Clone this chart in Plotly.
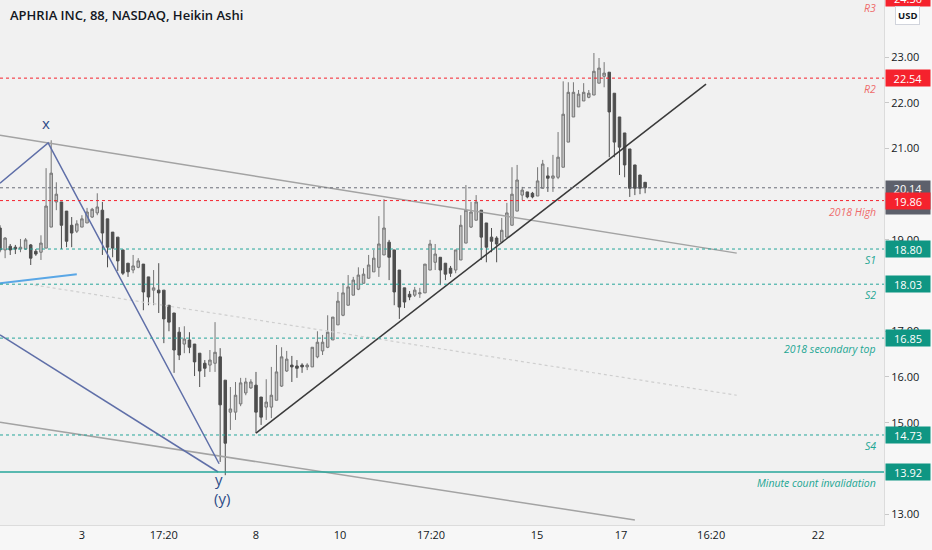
import plotly.graph_objects as go

# ---------------- data ----------------
bar_index = list(range(127))

opens = [19.26,18.78,18.86,18.84,18.80,18.80,18.89,18.75,18.73,18.82,
         19.28,19.83,19.83,19.63,19.32,19.19,19.28,19.37,19.50,19.59,
         19.65,19.46,19.17,19.06,18.78,18.49,18.34,18.40,18.47,18.19,
         17.90,17.90,17.90,17.57,17.40,16.98,16.72,16.81,16.72,16.52,
         16.30,16.26,16.30,16.44,15.93,15.23,15.23,15.41,15.65,15.76,
         15.82,15.56,15.34,15.34,15.49,15.80,16.13,16.26,16.24,16.26,
         16.22,16.22,16.44,16.57,16.65,16.81,17.14,17.35,17.57,17.79,
         17.92,18.05,18.16,18.30,18.40,18.67,18.95,18.78,18.34,17.95,
         17.81,17.79,17.82,17.84,18.34,18.51,18.62,18.49,18.38,18.34,
         18.56,18.93,19.28,19.43,19.65,19.37,19.06,19.04,18.95,19.06,
         19.32,19.63,19.98,20.05,20.02,19.96,20.13,20.40,20.35,20.37,
         20.59,21.14,21.69,21.91,22.04,22.12,22.17,22.43,22.58,22.67,
         22.21,21.69,21.34,20.99,20.64,20.42,20.26]

closes = [18.78,19.04,18.78,18.80,18.84,19.00,18.60,18.69,18.93,19.74,
          20.46,20.00,19.32,18.97,19.15,19.35,19.46,19.61,19.67,19.72,
          19.15,18.84,18.82,18.54,18.27,18.30,18.43,18.54,17.86,17.75,
          17.95,17.84,17.27,17.20,16.59,16.48,16.83,16.65,16.33,16.13,
          16.19,16.37,16.54,15.39,14.55,15.30,15.60,15.87,15.89,15.89,
          15.23,15.12,15.45,15.60,16.11,16.44,16.39,16.22,16.19,16.22,
          16.26,16.65,16.76,16.76,16.98,17.31,17.66,17.84,17.97,18.12,
          18.23,18.25,18.45,18.60,18.91,19.26,18.62,17.86,17.53,17.64,
          17.75,17.90,17.84,18.47,18.91,18.69,18.34,18.25,18.27,18.78,
          19.32,19.65,19.61,19.83,19.06,18.84,18.97,18.91,19.21,19.59,
          20.00,20.31,20.09,19.94,19.94,20.29,20.66,20.35,20.40,20.81,
          21.75,22.23,22.23,22.19,22.23,22.21,22.69,22.76,22.65,21.80,
          21.14,21.03,20.64,20.13,20.13,20.13,20.14]

highs = [19.32,19.06,18.91,18.89,19.02,19.04,18.91,18.80,19.10,20.57,
         21.18,20.26,19.83,19.63,19.50,19.43,19.54,19.70,19.70,20.02,
         19.83,19.46,19.17,19.06,18.78,18.49,18.67,18.60,18.47,18.19,
         18.34,18.49,17.90,17.57,17.40,17.09,17.11,16.98,16.72,16.52,
         16.37,16.59,17.20,16.63,15.93,15.78,15.89,15.98,15.98,15.95,
         16.11,15.56,15.95,16.22,16.70,16.65,16.57,16.46,16.37,16.30,
         16.30,16.65,17.00,16.92,17.35,17.31,17.86,18.05,18.23,18.19,
         18.40,18.38,18.67,18.78,19.52,19.89,19.00,18.78,18.34,17.95,
         17.88,17.97,17.95,18.47,19.00,18.91,18.62,18.49,18.43,18.78,
         19.54,20.20,19.83,19.98,19.65,19.37,19.26,19.08,19.48,19.81,
         20.59,20.64,20.16,20.05,20.05,20.59,20.75,20.59,20.86,21.36,
         22.47,22.45,22.45,22.28,22.43,22.28,23.09,22.98,22.89,22.67,
         22.21,21.69,21.34,20.99,20.64,20.42,20.26]

lows = [18.73,18.60,18.67,18.69,18.73,18.78,18.45,18.65,18.56,18.82,
        19.28,19.65,18.80,18.84,18.84,19.15,19.28,19.37,19.48,19.54,
        18.67,18.40,18.62,18.32,18.23,18.19,18.27,18.38,17.46,17.57,
        17.57,17.40,16.74,17.00,16.09,16.37,16.52,16.52,16.02,15.78,
        16.00,16.11,16.11,14.14,13.85,14.84,15.06,15.36,15.60,15.74,
        14.77,14.95,15.06,15.10,15.49,15.78,16.11,15.89,15.98,16.09,
        16.15,16.22,16.41,16.48,16.63,16.81,17.14,17.33,17.57,17.79,
        17.90,18.05,18.16,18.30,18.19,18.67,18.12,17.57,17.27,17.51,
        17.68,17.75,17.73,17.84,18.34,18.34,18.01,18.12,18.19,18.27,
        18.56,18.93,19.26,19.43,18.56,18.51,18.73,18.51,18.93,19.06,
        19.32,19.63,19.87,19.91,19.91,19.96,20.13,20.05,20.05,20.33,
        20.59,21.14,21.69,21.91,22.04,22.10,22.17,22.43,22.34,20.81,
        20.81,20.42,20.37,19.94,19.98,20.00,20.02]

# time axis labels (bar index position -> label)
tick_positions = [16, 32, 50, 66.4, 84.2, 104.9, 121.3, 138.9, 159.8]
tick_labels = ["3", "17:20", "8", "10", "17:20", "15", "17", "16:20", "22"]

price_ticks = [13, 15, 16, 17, 19, 21, 22, 23]

# horizontal levels
level_values = [22.54, 19.86, 18.80, 18.03, 16.85, 14.73, 13.92]
level_names = ["R2", "2018 High", "S1", "S2", "2018 secondary top", "S4",
               "Minute count invalidation"]
level_kind = ["res", "res", "sup", "sup", "sup", "sup", "sup_solid"]
r3_value = 24.30
last_price = 20.14

# drawings (bar index, price)
channel_top_x = [0, 143.9]
channel_top_y = [21.29, 18.71]
channel_bot_x = [0, 124.0]
channel_bot_y = [15.01, 12.87]
median_x = [6.8, 143.9]
median_y = [18.01, 15.60]
wave_a_x = [0, 9.4, 42.8]
wave_a_y = [20.24, 21.12, 14.10]
wave_b_x = [0, 42.6]
wave_b_y = [16.92, 13.92]
light_blue_x = [0, 15.0]
light_blue_y = [18.05, 18.25]
trend_x = [50.0, 137.9]
trend_y = [14.77, 22.41]

wave_labels = ["x", "y", "(y)"]
wave_label_x = [9.0, 42.8, 43.3]
wave_label_y = [21.56, 13.76, 13.35]

# ---------------- styles ----------------
Y_MIN, Y_MAX = 12.76, 24.25
X_MIN, X_MAX = 0, 172.66
RED = "#f5222d"
RED_TXT = "#ef6b6b"
TEAL = "#0f9683"
TEAL_LINE = "#26a69a"
TEAL_TXT = "#22a693"
FONT = "Open Sans"

fig = go.Figure()

fig.add_trace(go.Scatter(x=channel_top_x, y=channel_top_y, mode="lines",
                         line=dict(color="#a3a3a3", width=1.5), hoverinfo="skip"))
fig.add_trace(go.Scatter(x=channel_bot_x, y=channel_bot_y, mode="lines",
                         line=dict(color="#a3a3a3", width=1.5), hoverinfo="skip"))
fig.add_trace(go.Scatter(x=median_x, y=median_y, mode="lines",
                         line=dict(color="#cfcfcf", width=1.2, dash="dot"), hoverinfo="skip"))
fig.add_trace(go.Scatter(x=wave_a_x, y=wave_a_y, mode="lines",
                         line=dict(color="#5f6fa8", width=1.5), hoverinfo="skip"))
fig.add_trace(go.Scatter(x=wave_b_x, y=wave_b_y, mode="lines",
                         line=dict(color="#5f6fa8", width=1.5), hoverinfo="skip"))
fig.add_trace(go.Scatter(x=light_blue_x, y=light_blue_y, mode="lines",
                         line=dict(color="#5aa7e6", width=2), hoverinfo="skip"))

fig.add_trace(go.Candlestick(
    x=bar_index, open=opens, high=highs, low=lows, close=closes,
    increasing=dict(fillcolor="#c4c4c4", line=dict(color="#767676", width=1)),
    decreasing=dict(fillcolor="#4e4e4e", line=dict(color="#4e4e4e", width=1)),
    whiskerwidth=0, hoverinfo="skip"))

fig.add_trace(go.Scatter(x=trend_x, y=trend_y, mode="lines",
                         line=dict(color="#3a3a3a", width=1.5), hoverinfo="skip"))

shapes = []
annotations = []

# current price line
shapes.append(dict(type="line", xref="paper", x0=0, x1=1, yref="y",
                   y0=last_price, y1=last_price,
                   line=dict(color="#6a6d78", width=1, dash="dot")))

for val, name, kind in zip(level_values, level_names, level_kind):
    if kind == "res":
        lc, tc, dash, w = RED, RED_TXT, "dot", 1
    elif kind == "sup":
        lc, tc, dash, w = TEAL_LINE, TEAL_TXT, "dot", 1
    else:
        lc, tc, dash, w = TEAL_LINE, TEAL_TXT, "solid", 1.5
    shapes.append(dict(type="line", xref="paper", x0=0, x1=1, yref="y",
                       y0=val, y1=val, line=dict(color=lc, width=w, dash=dash)))
    annotations.append(dict(xref="paper", x=0.9932, xanchor="right", yref="y", y=val,
                            yanchor="middle", yshift=-11, text="<i>%s</i>" % name,
                            showarrow=False, font=dict(family=FONT, size=10.5, color=tc)))

# R3 label (level just above visible area)
r3_paper = (r3_value - Y_MIN) / (Y_MAX - Y_MIN)
annotations.append(dict(xref="paper", x=0.9932, xanchor="right", yref="paper", y=r3_paper,
                        yanchor="middle", yshift=-10, text="<i>R3</i>",
                        showarrow=False, font=dict(family=FONT, size=10.5, color=RED_TXT)))
annotations.append(dict(xref="paper", x=1, xanchor="left", xshift=1, yref="paper",
                        y=r3_paper, yanchor="middle", text="%.2f" % r3_value,
                        showarrow=False, width=44, height=16, bgcolor=RED, borderpad=0,
                        font=dict(family=FONT, size=11, color="white")))

# last price box (gray, behind the 19.86 box)
annotations.append(dict(xref="paper", x=1, xanchor="left", xshift=1, yref="y",
                        y=last_price, yanchor="top", yshift=8, text="%.2f" % last_price,
                        valign="top", showarrow=False, width=44, height=33,
                        bgcolor="#5d606b", borderpad=0,
                        font=dict(family=FONT, size=11, color="white")))

for val, kind in zip(level_values, level_kind):
    bc = RED if kind == "res" else TEAL
    annotations.append(dict(xref="paper", x=1, xanchor="left", xshift=1, yref="y", y=val,
                            yanchor="middle", text="%.2f" % val, showarrow=False,
                            width=44, height=16, bgcolor=bc, borderpad=0,
                            font=dict(family=FONT, size=11, color="white")))

# USD badge
annotations.append(dict(xref="paper", x=1.027, xanchor="center", yref="paper", y=0.971,
                        yanchor="middle", text="<b>USD</b>", showarrow=False,
                        bgcolor="white", bordercolor="#d1d4dc", borderwidth=1, borderpad=2,
                        font=dict(family=FONT, size=9.5, color="#131722")))

# wave labels
for t, xv, yv in zip(wave_labels, wave_label_x, wave_label_y):
    annotations.append(dict(xref="x", x=xv, yref="y", y=yv, text=t, showarrow=False,
                            font=dict(family=FONT, size=15, color="#2d4c88")))

# title
annotations.append(dict(xref="paper", x=0.009, xanchor="left", yref="paper", y=1 - 15 / 525,
                        yanchor="middle", text="APHRIA INC, 88, NASDAQ, Heikin Ashi",
                        showarrow=False,
                        font=dict(family=FONT, size=13, color="#131722", weight=600)))

fig.update_layout(
    width=932, height=550,
    margin=dict(l=0, r=48, t=0, b=25),
    paper_bgcolor="#f7f7f7", plot_bgcolor="#f1f1f1",
    showlegend=False,
    shapes=shapes, annotations=annotations,
    font=dict(family=FONT, size=11, color="#131722"),
    xaxis=dict(range=[X_MIN, X_MAX], rangeslider=dict(visible=False),
               tickmode="array", tickvals=tick_positions, ticktext=tick_labels,
               showgrid=False, zeroline=False, showline=True, linecolor="#dcdcdc",
               ticks="", tickfont=dict(family=FONT, size=11, color="#131722")),
    yaxis=dict(range=[Y_MIN, Y_MAX], side="right",
               tickmode="array", tickvals=price_ticks,
               ticktext=["%.2f" % v for v in price_ticks],
               showgrid=False, zeroline=False, showline=True, linecolor="#dcdcdc",
               ticks="outside", ticklen=4, tickcolor="#c8c8c8",
               tickfont=dict(family=FONT, size=11, color="#131722")),
)

fig.write_html("out.html", config={"displayModeBar": False},
               post_script="document.body.style.margin='0';document.body.style.overflow='hidden';")
